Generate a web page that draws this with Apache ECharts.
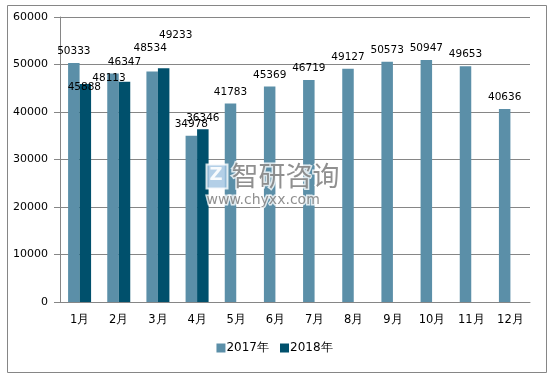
<!DOCTYPE html>
<html><head><meta charset="utf-8">
<script src="https://cdn.jsdelivr.net/npm/echarts@6/dist/echarts.min.js"></script>
<style>html,body{margin:0;padding:0;background:#fff}#c{width:549px;height:374px}</style>
</head><body><div id="c"></div>
<script>
const categories = ['1月','2月','3月','4月','5月','6月','7月','8月','9月','10月','11月','12月'];
const seriesNames = ['2017年','2018年'];
const values2017 = [50333,48113,48534,34978,41783,45369,46719,49127,50573,50947,49653,40636];
const values2018 = [45888,46347,49233,36346,null,null,null,null,null,null,null,null];
const yTicks = [0,10000,20000,30000,40000,50000,60000];

// label nudges (style only), [dx, dy] per item
const nudge2017 = {1:[-4,16],2:[-2,-12]};
const nudge2018 = {0:[-1,14.5],1:[0,-8.5],2:[12,-21.5]};

function withLabels(vals, nudge){
  return vals.map((v,i)=>{
    if (v==null) return null;
    const o = {value:v};
    if (nudge[i]) o.label = {offset: nudge[i]};
    return o;
  });
}
const font = 'DejaVu Sans, Verdana, sans-serif';
const chart = echarts.init(document.getElementById('c'));
chart.setOption({
  animation:false,
  backgroundColor:'#fff',
  grid:{left:60,right:19,top:17,bottom:72,containLabel:false},
  legend:{
    bottom:15,left:'center',itemWidth:9,itemHeight:9,itemGap:11,icon:'rect',
    textStyle:{fontFamily:font,fontSize:12,color:'#000',padding:[0,0,0,-4]},
    data:seriesNames
  },
  xAxis:{type:'category',data:categories,
    axisLine:{lineStyle:{color:'#868686'}},
    axisTick:{length:5,lineStyle:{color:'#868686'}},
    axisLabel:{margin:12,fontFamily:font,fontSize:11.5,color:'#000'}},
  yAxis:{type:'value',min:yTicks[0],max:yTicks[yTicks.length-1],interval:10000,
    axisLine:{show:true,lineStyle:{color:'#868686'}},
    axisTick:{show:true,length:6,lineStyle:{color:'#868686'}},
    splitLine:{lineStyle:{color:'#868686'}},
    axisLabel:{margin:12,fontFamily:font,fontSize:11,color:'#000',formatter:v=>String(v)}},
  series:[
    {name:seriesNames[0],type:'bar',data:withLabels(values2017,nudge2017),barWidth:11.5,barGap:'0%',
     itemStyle:{color:'#5B8FA8'},
     label:{show:true,position:'top',distance:6,fontFamily:font,fontSize:10.5,color:'#000'}},
    {name:seriesNames[1],type:'bar',data:withLabels(values2018,nudge2018),barWidth:11.5,barGap:'0%',
     itemStyle:{color:'#00506C'},
     label:{show:true,position:'top',distance:6,fontFamily:font,fontSize:10.5,color:'#000'}}
  ],
  graphic:[
    {type:'rect',left:5,top:3,z:100,shape:{width:539,height:367},style:{fill:'none',stroke:'#868686',lineWidth:1},silent:true},
    {type:'group',left:205,top:161,z:100,children:[
      {type:'rect',z:101,shape:{x:2,y:2,width:21,height:24},style:{fill:'rgba(160,195,225,0.8)',stroke:'rgba(255,255,255,0.8)',lineWidth:2}},
      {type:'text',z:102,style:{x:5,y:4,text:'Z',fill:'rgba(255,255,255,0.9)',font:'bold 18px DejaVu Sans'}},
      {type:'text',z:102,style:{x:27,y:0,text:'智研咨询',fill:'rgba(125,125,125,0.85)',stroke:'rgba(255,255,255,0.8)',lineWidth:3,font:'27px "Noto Sans CJK SC"'}},
      {type:'text',z:102,style:{x:2,y:31,text:'www.chyxx.com',fill:'rgba(125,125,125,0.85)',stroke:'rgba(255,255,255,0.8)',lineWidth:3,font:'14px DejaVu Sans'}}
    ]}
  ]
});
</script></body></html>
